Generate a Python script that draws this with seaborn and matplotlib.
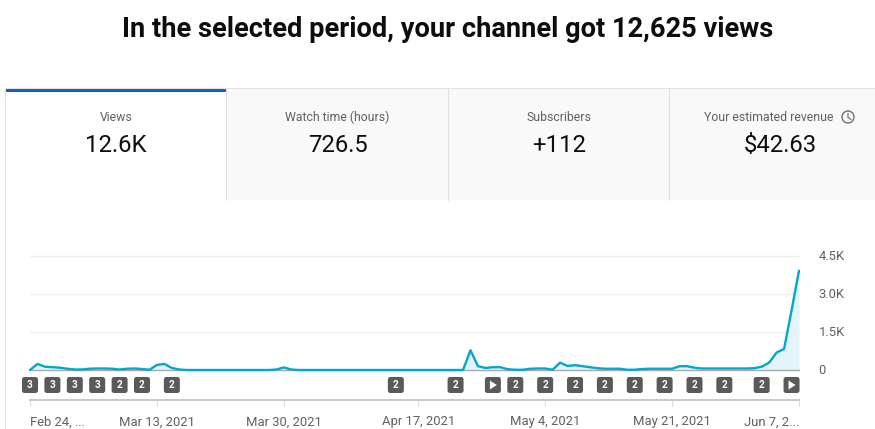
import numpy as np
import pandas as pd
import matplotlib
matplotlib.use("Agg")
import matplotlib.pyplot as plt
import matplotlib.dates as mdates
from matplotlib.patches import Rectangle, FancyBboxPatch, Circle, Polygon
from matplotlib.transforms import ScaledTranslation
import seaborn as sns

# daily views, Feb 24 to Jun 7 2021
views = [
    0, 240, 130, 110, 90, 50, 20, 20, 50, 60,
    60, 50, 20, 50, 60, 40, 10, 200, 240, 80,
    20, 0, 0, 0, 0, 0, 0, 0, 0, 0,
    0, 0, 0, 20, 100, 20, 0, 0, 0, 0,
    0, 0, 0, 0, 0, 0, 0, 0, 0, 0,
    0, 0, 0, 0, 0, 0, 0, 0, 0, 780,
    150, 80, 110, 110, 30, 10, 10, 50, 60, 60,
    10, 290, 160, 190, 150, 110, 70, 50, 50, 50,
    10, 10, 40, 50, 50, 50, 50, 150, 150, 90,
    60, 60, 60, 60, 60, 60, 60, 70, 130, 290,
    690, 830, 2350, 3920,
]
dates = pd.date_range("2021-02-24", periods=len(views), freq="D")

y_ticks = [0, 1500, 3000, 4500]
y_labels = ["0", "1.5K", "3.0K", "4.5K"]
x_ticks = ["2021-02-24", "2021-03-13", "2021-03-30", "2021-04-17", "2021-05-04", "2021-05-21", "2021-06-07"]
x_labels = ["Feb 24, ...", "Mar 13, 2021", "Mar 30, 2021", "Apr 17, 2021", "May 4, 2021", "May 21, 2021", "Jun 7, 2..."]

# markers under the chart: day offset from the start, and what the badge shows
badge_days = [0, 3, 6, 9, 12, 15, 19, 49, 57, 62, 65, 69, 73, 77, 81, 85, 89, 93, 98, 102]
badge_marks = ["3", "3", "3", "3", "2", "2", "2", "2", "2", "play", "2", "2", "2", "2", "2", "2", "2", "2", "2", "play"]

tab_names = ["Views", "Watch time (hours)", "Subscribers", "Your estimated revenue"]
tab_values = ["12.6K", "726.5", "+112", "$42.63"]
name_centers = [116, 337.5, 558.5, 768.5]
value_centers = [116, 338, 559, 780]

W, H = 875, 429
LINE = "#00a8d0"
GREY = "#606060"

sns.set_style("white")
plt.rcParams["font.family"] = ["Roboto", "DejaVu Sans"]

fig = plt.figure(figsize=(W / 100, H / 100), dpi=100)

# overlay in pixel coordinates for the page furniture
bg = fig.add_axes([0, 0, 1, 1], zorder=0)
bg.set_xlim(0, W)
bg.set_ylim(H, 0)
bg.axis("off")

bg.text(448, 29.5, "In the selected period, your channel got 12,625 views",
        ha="center", va="center", fontsize=19.65, fontweight="bold", color="#0d0d0d")

bg.add_patch(Rectangle((226, 88), W - 226, 112, fc="#f9f9f9", ec="none"))
bg.plot([5, W], [88, 88], color="#e2e2e2", lw=0.8)
bg.plot([5, 5], [88, H], color="#e2e2e2", lw=0.8)
for x in [226, 448, 669]:
    bg.plot([x, x], [88, 200], color="#e0e0e0", lw=0.8)
bg.add_patch(Rectangle((5.5, 88.5), 220.5, 3.5, fc="#0f5fc4", ec="none"))

for name, nx, value, vx in zip(tab_names, name_centers, tab_values, value_centers):
    bg.text(nx, 117.5, name, ha="center", va="center", fontsize=8.85, color=GREY)
    bg.text(vx, 145, value, ha="center", va="center", fontsize=17.2, color="#0d0d0d")

# clock icon next to revenue
bg.add_patch(Circle((848, 117), 6, fc="none", ec="#707070", lw=1))
bg.plot([848, 848, 851], [113.5, 117.5, 119.5], color="#707070", lw=0.9)

# main chart
ax = fig.add_axes([30 / W, (H - 370) / H, 769 / W, 114 / H], zorder=1)
ax.patch.set_alpha(0)
df = pd.DataFrame({"date": dates, "views": views})
ax.fill_between(df["date"], df["views"], 0, color="#e3f4fa", lw=0)
sns.lineplot(data=df, x="date", y="views", ax=ax, color=LINE, lw=1.7, clip_on=False, zorder=3)

ax.set_xlim(dates[0], dates[-1])
ax.set_ylim(0, 4500)
ax.set_xlabel("")
ax.set_ylabel("")

ax.yaxis.tick_right()
ax.set_yticks(y_ticks)
ax.set_yticklabels(y_labels, fontsize=9.4, color=GREY)
ax.tick_params(axis="y", length=0, pad=14)
nudge = ScaledTranslation(0, 1 / 100, fig.dpi_scale_trans)
for lab in ax.get_yticklabels():
    lab.set_transform(lab.get_transform() + nudge)
for v in y_ticks[1:]:
    ax.axhline(v, color="#eeeeee", lw=1, zorder=0, clip_on=False)
ax.axhline(0, color="#a8a8a8", lw=1, zorder=2, clip_on=False)

for side in ["top", "left", "right"]:
    ax.spines[side].set_visible(False)
ax.spines["bottom"].set_position(("outward", 30 * 0.72))
ax.spines["bottom"].set_color("#c8c8c8")
ax.spines["bottom"].set_linewidth(1.4)

ax.set_xticks(mdates.date2num(pd.to_datetime(x_ticks)))
ax.set_xticklabels(x_labels, fontsize=9.4, color=GREY)
ax.tick_params(axis="x", length=4, width=0.8, color="#dcdcdc", pad=7, bottom=True)
labels = ax.get_xticklabels()
labels[0].set_ha("left")
labels[-1].set_ha("right")

# badges sit between the chart and the date axis
for day, mark in zip(badge_days, badge_marks):
    d = mdates.date2num(dates[day])
    px = ax.transData.transform((d, 0))[0]
    bg.add_patch(FancyBboxPatch((px - 6.5, 378.5), 13, 13, boxstyle="round,pad=1.5,rounding_size=2.5",
                                fc="#5a5a5a", ec="none"))
    if mark == "play":
        bg.add_patch(Polygon([(px - 3, 380.5), (px - 3, 389.5), (px + 4, 385)], fc="white", ec="none"))
    else:
        bg.text(px, 385.3, mark, ha="center", va="center", fontsize=7.2, fontweight="bold", color="white")

fig.savefig("out.png", dpi=100)
plt.close(fig)
